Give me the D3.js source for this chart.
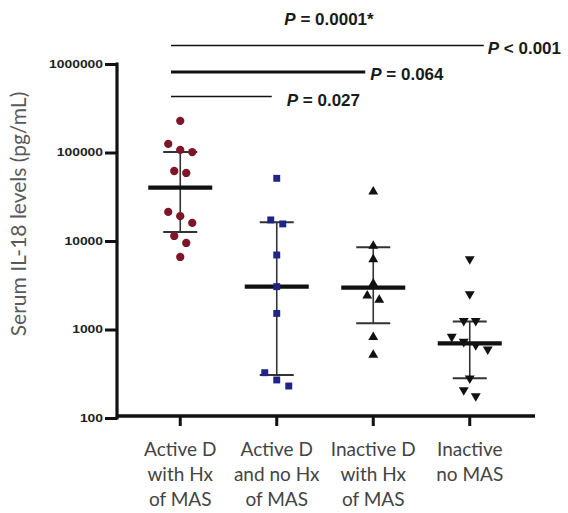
<!DOCTYPE html>
<html>
<head>
<meta charset="utf-8">
<script src="https://cdn.jsdelivr.net/npm/d3@7"></script>
<style>
  body { margin: 0; background: #fff; }
  svg { display: block; }
</style>
</head>
<body>
<svg id="chart" width="568" height="513"></svg>
<script>
// Serum IL-18 by patient group (pg/mL), individual subjects
const categories = [
  "Active D\nwith Hx\nof MAS",
  "Active D\nand no Hx\nof MAS",
  "Inactive D\nwith Hx\nof MAS",
  "Inactive\nno MAS"
];
const activeWithMAS   = [228000, 125000, 107000, 101000, 61800, 58700, 21300, 19100, 16000, 11400, 9500, 6600];
const activeNoMAS     = [51100, 17300, 15600, 6950, 3050, 1520, 325, 269, 230];
const inactiveWithMAS = [36100, 8790, 6210, 3300, 2410, 2160, 817, 515];
const inactiveNoMAS   = [6260, 2520, 1250, 1250, 829, 728, 668, 597, 281, 207, 177];

// Median and interquartile range per group
const medians = [40000, 3050, 2980, 698];
const q1      = [12600, 306, 1180, 281];
const q3      = [101000, 16300, 8490, 1230];

const yTicks = [100, 1000, 10000, 100000, 1000000];
const yTitle = "Serum IL-18 levels (pg/mL)";

// Pairwise comparisons against the first group
const compareTo  = [3, 2, 1];
const compareP   = ["< 0.001", "= 0.064", "= 0.027"];
const overallP   = "= 0.0001*";

const series = [activeWithMAS, activeNoMAS, inactiveWithMAS, inactiveNoMAS];
const colors = ["#7d1628", "#1e2586", "#111", "#111"];
const shapes = [d3.symbolCircle, d3.symbolSquare, d3.symbolTriangle, d3.symbolTriangle];
const rotate = [0, 0, 0, 180];
const sizes  = [54, 48, 42, 42];

const svg = d3.select("#chart");

const x = d3.scaleBand().domain(categories).range([132, 518]);
const y = d3.scaleLog().domain([100, 1000000]).range([418, 64]);
const cx = c => x(c) + x.bandwidth() / 2;

// Y axis
const yAxis = svg.append("g")
  .attr("transform", "translate(117,0)")
  .call(d3.axisLeft(y).tickValues(yTicks).tickFormat(d3.format("d")).tickSize(12).tickPadding(2));
yAxis.select(".domain").remove();
yAxis.selectAll(".tick line").attr("stroke", "#111").attr("stroke-width", 3);
yAxis.selectAll(".tick text")
  .attr("fill", "#222")
  .style("font-family", "'Liberation Sans', Arial, sans-serif")
  .style("font-weight", "bold")
  .style("font-size", "10px")
  .attr("textLength", d => String(d).length * 7.7)
  .attr("lengthAdjust", "spacingAndGlyphs");
svg.append("line")
  .attr("x1", 117).attr("x2", 117)
  .attr("y1", y(1000000) - 1.5).attr("y2", y(100) + 1.5)
  .attr("stroke", "#111").attr("stroke-width", 3.2);

// X axis
const xAxis = svg.append("g")
  .attr("transform", `translate(0,${y(100) - 2})`)
  .call(d3.axisBottom(x).tickSize(10).tickFormat(""));
xAxis.select(".domain").remove();
xAxis.selectAll(".tick line").attr("stroke", "#111").attr("stroke-width", 3);
svg.append("line")
  .attr("x1", 116).attr("x2", 535)
  .attr("y1", y(100) - 2).attr("y2", y(100) - 2)
  .attr("stroke", "#111").attr("stroke-width", 3.6);

// Category labels (multi-line)
const labelG = svg.append("g")
  .style("font-family", "Lato, 'Open Sans', sans-serif")
  .style("font-size", "19px")
  .attr("fill", "#444")
  .attr("text-anchor", "middle");
categories.forEach(c => {
  const t = labelG.append("text").attr("x", cx(c)).attr("y", 456);
  c.split("\n").forEach((line, i) => {
    t.append("tspan").attr("x", cx(c)).attr("dy", i === 0 ? 0 : 25).text(line);
  });
});

// Y title
svg.append("text")
  .attr("transform", `translate(26,${214}) rotate(-90)`)
  .attr("text-anchor", "middle")
  .attr("fill", "#5a5a5a")
  .style("font-family", "Lato, 'Open Sans', sans-serif")
  .style("font-size", "21px")
  .text(yTitle);

// Median and IQR bars
categories.forEach((c, i) => {
  const g = svg.append("g");
  g.append("line").attr("x1", cx(c)).attr("x2", cx(c))
    .attr("y1", y(q3[i])).attr("y2", y(q1[i])).attr("stroke-width", 1.6).attr("stroke", "#333");
  [q1[i], q3[i]].forEach(v => {
    g.append("line").attr("x1", cx(c) - 17).attr("x2", cx(c) + 17)
      .attr("y1", y(v)).attr("y2", y(v)).attr("stroke-width", 2).attr("stroke", "#333");
  });
  g.append("line").attr("x1", cx(c) - 32).attr("x2", cx(c) + 32)
    .attr("y1", y(medians[i])).attr("y2", y(medians[i])).attr("stroke-width", 4.2).attr("stroke", "#111");
});

// Spread points that sit at nearly the same height side by side
function dodge(values, center) {
  const pts = values.map(v => ({ v, py: y(v) })).sort((a, b) => a.py - b.py);
  const rows = [];
  pts.forEach(p => {
    const last = rows[rows.length - 1];
    if (last && p.py - last[last.length - 1].py < 11) last.push(p);
    else rows.push([p]);
  });
  rows.forEach(r => r.forEach((p, i) => { p.px = center + (i - (r.length - 1) / 2) * 12; }));
  return pts;
}

series.forEach((vals, i) => {
  const pts = dodge(vals, cx(categories[i]));
  svg.append("g").selectAll("path").data(pts).join("path")
    .attr("d", d3.symbol().type(shapes[i]).size(sizes[i]))
    .attr("transform", d => `translate(${d.px},${d.py}) rotate(${rotate[i]})`)
    .attr("fill", colors[i]);
});

// Significance brackets
const sigG = svg.append("g")
  .style("font-family", "'Liberation Sans', Arial, sans-serif")
  .style("font-weight", "bold")
  .style("font-size", "17px")
  .attr("fill", "#1a1a1a");
const lineYs = [45.5, 72, 96.5];
const lineW  = [1.6, 3, 1.6];
const endOff = [14, -8, -5];
const textOff = [4, 5, 15];
const baseOff = [8, 8, 9];
compareTo.forEach((k, j) => {
  const xEnd = cx(categories[k]) + endOff[j];
  svg.append("line").attr("x1", 171).attr("x2", xEnd)
    .attr("y1", lineYs[j]).attr("y2", lineYs[j])
    .attr("stroke", "#111").attr("stroke-width", lineW[j]);
  const t = sigG.append("text").attr("x", xEnd + textOff[j]).attr("y", lineYs[j] + baseOff[j]);
  t.append("tspan").style("font-style", "italic").text("P");
  t.append("tspan").text(" " + compareP[j]);
});
const overallLabel = sigG.append("text").attr("x", 329).attr("y", 25).attr("text-anchor", "middle");
overallLabel.append("tspan").style("font-style", "italic").text("P");
overallLabel.append("tspan").text(" " + overallP);
</script>
</body>
</html>
